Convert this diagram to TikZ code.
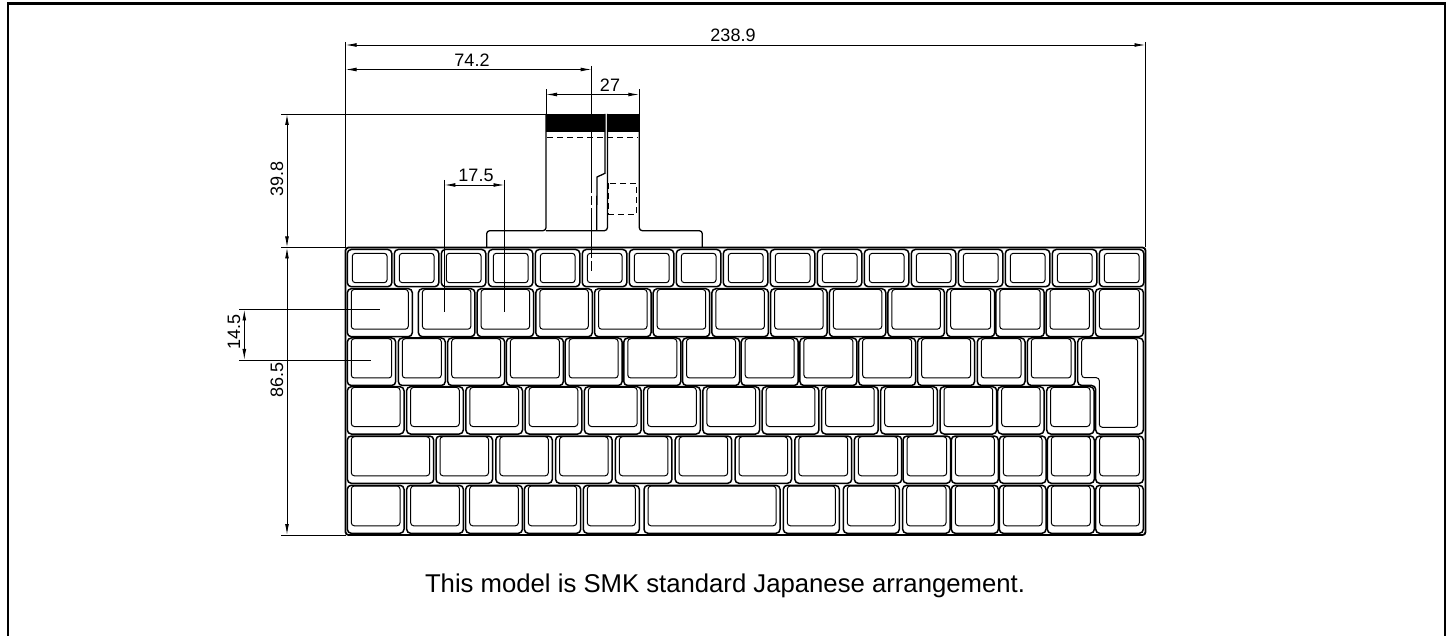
\documentclass[tikz,border=0pt]{standalone}
\usepackage{fontspec}
\setmainfont{Liberation Sans}
\usetikzlibrary{arrows.meta}
\tikzset{
  >={Latex[length=11pt,width=3.8pt]},
  frame line/.style ={draw,line width=2.4pt},
  keyboard edge/.style ={draw,line width=1.8pt,rounded corners=3pt},
  key outer/.style ={draw,line width=1.5pt,rounded corners=4pt,fill=white},
  key inner/.style ={draw,line width=1pt,rounded corners=3pt},
  cable line/.style ={draw,line width=1.3pt},
  hidden line/.style ={draw,line width=.9pt,dash pattern=on 6pt off 4pt},
  dim line/.style ={draw,line width=.9pt,<->},
  ext line/.style ={draw,line width=.9pt},
  dim label/.style ={font=\fontsize{18}{18}\selectfont,inner sep=0pt},
  note label/.style ={font=\fontsize{25.7}{28}\selectfont,inner sep=0pt},
}
% one row of keys: top, bottom, then list of left/width
\newcommand{\keyrow}[3]{
  \foreach \kx/\kw in {#3} {
    \draw[key outer] (\kx,#1) rectangle ++(\kw,#2-#1);
    \draw[key inner] (\kx+4,#1+.7) rectangle (\kx+\kw-4,#2-7.5);
  }
}
\begin{document}
\begin{tikzpicture}[x=1pt,y=-1pt]
\useasboundingbox (0,0) rectangle (1452,636);
% open frame
\coordinate (frameA) at (8,636);
\coordinate (frameB) at (8,3.5);
\coordinate (frameC) at (1445,3.5);
\coordinate (frameD) at (1445,636);
\draw[frame line] (frameA) -- (frameB) -- (frameC) -- (frameD);

% keyboard
\draw[keyboard edge] (345.5,247.5) rectangle (1145.5,535);
% function row
\foreach \i in {0,...,16} {
  \draw[key outer] (347.3+47*\i,249.5) rectangle ++(44.5,37.2);
  \draw[key inner] (352.3+47*\i,253.3) rectangle ++(34.8,29.4);
}
\keyrow{288.7}{336.7}{347.3/65, 418.4/56.5, 477.1/56.5, 535.8/56.5, 594.5/56.5,
  653.2/56.5, 711.9/56.5, 770.6/56.5, 829.3/56.5, 887.9/56.5,
  946.7/48, 995.8/48.4, 1046/47.4, 1095.4/48}
\keyrow{338}{385.5}{347.3/48.4, 398.3/47, 447.7/57, 506.4/57, 565.1/57, 623.8/57,
  682.5/57, 741.2/57, 799.9/57, 858.6/57, 917.6/57, 977.3/47.7, 1027.3/47.7}
\keyrow{386.7}{434}{347.3/56.7, 406.6/56.7, 465.8/56.7, 525.1/56.7, 584.4/56.7,
  643.6/56.7, 702.9/56.7, 762.2/56.7, 821.5/56.7, 880.7/56.7, 940/56.7,
  997.7/46.3, 1046.7/47.3}
\keyrow{436}{483.3}{347.3/86.4, 436/56.5, 495.8/56.5, 555.6/56.5, 615.4/56.5,
  675.2/56.5, 735/56.5, 794.8/56.9, 854.3/47.4, 903/47.7, 951.3/47,
  999.3/46.7, 1047.3/47, 1095.7/47.6}
\keyrow{485.3}{533.3}{347.3/56.7, 406.7/56.7, 465.7/56.7, 524.3/56.4, 583.3/56,
  644/136, 783.3/56, 843.3/56, 902.7/47.3, 951.3/47, 999.3/46.7,
  1047.3/47, 1095.7/47.6}
% enter key
\draw[key outer] (1077.7,338) -- (1143.3,338) -- (1143.3,434) -- (1095.7,434)
  -- (1095.7,385.5) -- (1077.7,385.5) -- cycle;
\draw[key inner] (1081.7,338.7) -- (1137.7,338.7) -- (1137.7,427.3) -- (1099.3,427.3)
  -- (1099.3,377.7) -- (1081.7,377.7) -- cycle;

% cable tail
\coordinate (baseL) at (486.7,247);
\coordinate (baseR) at (702.3,247);
\coordinate (tailL) at (546,114);
\coordinate (tailR) at (639.3,114);
\fill (tailL) rectangle (605,132.3);
\fill (607.6,114) rectangle (639.3,132.3);
\draw[cable line,rounded corners=3pt] (baseL) |- (tailL |- 0,230.7) -- (tailL);
\draw[cable line,rounded corners=3pt] (baseR) |- (tailR |- 0,230.7) -- (tailR);
\draw[cable line,rounded corners=3pt] (546,230.7) -- (607.4,230.7) -- (607.4,114);
\draw[cable line] (605,114) -- (605,173.3) -- (597,177) -- (596.7,230.7);
\draw[hidden line] (547,137) -- (638,137);
\draw[hidden line] (608.6,183.3) rectangle (636.7,214);

% dimensions
\coordinate (widthL) at (345.5,45);
\coordinate (widthR) at (1145.5,45);
\coordinate (offsetL) at (345.5,69.5);
\coordinate (offsetR) at (591.7,69.5);
\coordinate (tailDimL) at (546,94.5);
\coordinate (tailDimR) at (639.3,94.5);
\coordinate (pitchL) at (444.3,185);
\coordinate (pitchR) at (504.5,185);
\coordinate (tailDimT) at (287,114);
\coordinate (tailDimB) at (287,247.5);
\coordinate (bodyDimB) at (287,535);
\coordinate (rowDimT) at (244.3,309.5);
\coordinate (rowDimB) at (244.3,360);

\draw[ext line] (345.5,42) -- (345.5,247);
\draw[ext line] (1145.5,42) -- (1145.5,247);
\draw[ext line] (546,89.5) -- (tailL);
\draw[ext line] (639.3,89.5) -- (tailR);
\draw[ext line] (281,114) -- (tailL);
\draw[ext line] (281,247.5) -- (345.5,247.5);
\draw[ext line] (281,535) -- (345.5,535);
\draw[ext line] (444.3,180) -- (444.3,312.5);
\draw[ext line] (504.5,180) -- (504.5,312.5);
\draw[ext line] (239,309.5) -- (380,309.5);
\draw[ext line] (239,360) -- (371,360);
\draw[ext line] (591.7,66) -- (591.7,193);
\draw[ext line] (591.7,196) -- (591.7,205);
\draw[ext line] (591.7,208) -- (591.7,258);
\draw[ext line] (591.7,261) -- (591.7,270.7);

\draw[dim line] (widthL) -- (widthR);
\draw[dim line] (offsetL) -- (offsetR);
\draw[dim line] (tailDimL) -- (tailDimR);
\draw[dim line] (pitchL) -- (pitchR);
\draw[dim line] (tailDimT) -- (tailDimB);
\draw[dim line] (tailDimB) -- (bodyDimB);
\draw[dim line] (rowDimT) -- (rowDimB);

\node[dim label] (widthText) at (733,35.5) {238.9};
\node[dim label] (offsetText) at (472,60) {74.2};
\node[dim label] (tailText) at (610,85) {27};
\node[dim label] (pitchText) at (476,175.5) {17.5};
\node[dim label,rotate=90] (tailHeightText) at (277,179) {39.8};
\node[dim label,rotate=90] (bodyText) at (277,380) {86.5};
\node[dim label,rotate=90] (rowText) at (234,332) {14.5};
\node[note label] (noteText) at (725,586) {This model is SMK standard Japanese arrangement.};
\end{tikzpicture}
\end{document}
